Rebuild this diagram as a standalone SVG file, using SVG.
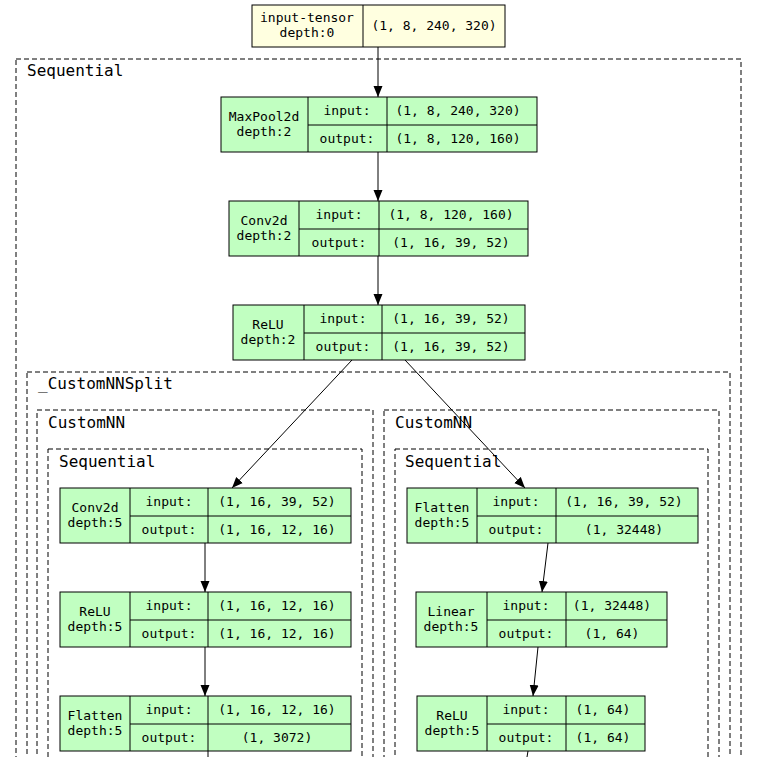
<svg xmlns="http://www.w3.org/2000/svg" width="757" height="757" viewBox="0 0 757 757">
<style>
.c{fill:none;stroke:#000;stroke-dasharray:5,3;stroke-width:1}
.cl{font-family:"DejaVu Sans Mono",monospace;font-size:16px}
.n rect{stroke:#000;stroke-width:1}
.g{fill:#c1ffc1}
.y{fill:#ffffe0}
.n line{stroke:#000}
.n text{font-family:"DejaVu Sans Mono",monospace;font-size:13px;text-anchor:middle}
.e{stroke:#000;fill:none;marker-end:url(#a)}
</style>
<defs><marker id="a" markerWidth="12" markerHeight="12" refX="11" refY="5" orient="auto" markerUnits="userSpaceOnUse"><path d="M0,0.5 L11,5 L0,9.5 z"/></marker></defs>
<rect width="757" height="757" fill="#fff"/>
<g id="clusters">
<rect class="c" x="16" y="59" width="725" height="710"/><text class="cl" x="27" y="76">Sequential</text>
<rect class="c" x="27" y="372" width="703" height="400"/><text class="cl" x="38" y="389">_CustomNNSplit</text>
<rect class="c" x="37" y="410" width="336" height="360"/><text class="cl" x="48" y="428">CustomNN</text>
<rect class="c" x="384" y="410" width="335" height="360"/><text class="cl" x="395" y="428">CustomNN</text>
<rect class="c" x="48" y="449" width="314" height="320"/><text class="cl" x="59" y="467">Sequential</text>
<rect class="c" x="395" y="449" width="313" height="320"/><text class="cl" x="405" y="467">Sequential</text>
</g>
<g id="edges">
<line class="e" x1="378" y1="47" x2="378" y2="97"/>
<line class="e" x1="378" y1="152" x2="378" y2="201"/>
<line class="e" x1="378" y1="256" x2="378" y2="305"/>
<line class="e" x1="352" y1="360" x2="232" y2="488"/>
<line class="e" x1="405" y1="360" x2="525" y2="488"/>
<line class="e" x1="205" y1="543" x2="205" y2="592"/>
<line class="e" x1="205" y1="647" x2="205" y2="696"/>
<line x1="208" y1="751" x2="208" y2="757" stroke="#000"/>
<line class="e" x1="548" y1="543" x2="542" y2="592"/>
<line class="e" x1="538" y1="647" x2="533" y2="696"/>
<line x1="528" y1="751" x2="527" y2="757" stroke="#000"/>
</g>
<g id="input" class="n">
<rect class="y" x="252" y="5" width="253" height="42"/><line x1="363" y1="5" x2="363" y2="47"/>
<text x="307" y="22">input-tensor</text><text x="307" y="37">depth:0</text>
<text x="434" y="30">(1, 8, 240, 320)</text>
</g>
<g id="maxpool" class="n">
<rect class="g" x="221" y="97" width="316" height="55"/><line x1="308" y1="97" x2="308" y2="152"/><line x1="387" y1="97" x2="387" y2="152"/><line x1="308" y1="125" x2="537" y2="125"/>
<text x="264" y="121">MaxPool2d</text><text x="264" y="136">depth:2</text>
<text x="347" y="115">input:</text><text x="347" y="143">output:</text>
<text x="458" y="115">(1, 8, 240, 320)</text><text x="458" y="143">(1, 8, 120, 160)</text>
</g>
<g id="conv1" class="n">
<rect class="g" x="229" y="201" width="299" height="55"/><line x1="299" y1="201" x2="299" y2="256"/><line x1="379" y1="201" x2="379" y2="256"/><line x1="299" y1="229" x2="528" y2="229"/>
<text x="264" y="225">Conv2d</text><text x="264" y="240">depth:2</text>
<text x="339" y="219">input:</text><text x="339" y="247">output:</text>
<text x="451" y="219">(1, 8, 120, 160)</text><text x="451" y="247">(1, 16, 39, 52)</text>
</g>
<g id="relu1" class="n">
<rect class="g" x="233" y="305" width="292" height="55"/><line x1="304" y1="305" x2="304" y2="360"/><line x1="382" y1="305" x2="382" y2="360"/><line x1="304" y1="333" x2="525" y2="333"/>
<text x="268" y="329">ReLU</text><text x="268" y="344">depth:2</text>
<text x="343" y="323">input:</text><text x="343" y="351">output:</text>
<text x="451" y="323">(1, 16, 39, 52)</text><text x="451" y="351">(1, 16, 39, 52)</text>
</g>
<g id="lconv" class="n">
<rect class="g" x="60" y="488" width="291" height="55"/><line x1="130" y1="488" x2="130" y2="543"/><line x1="208" y1="488" x2="208" y2="543"/><line x1="130" y1="516" x2="351" y2="516"/>
<text x="95" y="512">Conv2d</text><text x="95" y="527">depth:5</text>
<text x="169" y="506">input:</text><text x="169" y="534">output:</text>
<text x="277" y="506">(1, 16, 39, 52)</text><text x="277" y="534">(1, 16, 12, 16)</text>
</g>
<g id="lrelu" class="n">
<rect class="g" x="60" y="592" width="291" height="55"/><line x1="130" y1="592" x2="130" y2="647"/><line x1="208" y1="592" x2="208" y2="647"/><line x1="130" y1="620" x2="351" y2="620"/>
<text x="95" y="616">ReLU</text><text x="95" y="631">depth:5</text>
<text x="169" y="610">input:</text><text x="169" y="638">output:</text>
<text x="277" y="610">(1, 16, 12, 16)</text><text x="277" y="638">(1, 16, 12, 16)</text>
</g>
<g id="lflatten" class="n">
<rect class="g" x="60" y="696" width="291" height="55"/><line x1="130" y1="696" x2="130" y2="751"/><line x1="208" y1="696" x2="208" y2="751"/><line x1="130" y1="724" x2="351" y2="724"/>
<text x="95" y="720">Flatten</text><text x="95" y="735">depth:5</text>
<text x="169" y="714">input:</text><text x="169" y="742">output:</text>
<text x="277" y="714">(1, 16, 12, 16)</text><text x="277" y="742">(1, 3072)</text>
</g>
<g id="rflatten" class="n">
<rect class="g" x="407" y="488" width="291" height="55"/><line x1="477" y1="488" x2="477" y2="543"/><line x1="556" y1="488" x2="556" y2="543"/><line x1="477" y1="516" x2="698" y2="516"/>
<text x="442" y="512">Flatten</text><text x="442" y="527">depth:5</text>
<text x="516" y="506">input:</text><text x="516" y="534">output:</text>
<text x="624" y="506">(1, 16, 39, 52)</text><text x="624" y="534">(1, 32448)</text>
</g>
<g id="rlinear" class="n">
<rect class="g" x="416" y="592" width="251" height="55"/><line x1="487" y1="592" x2="487" y2="647"/><line x1="566" y1="592" x2="566" y2="647"/><line x1="487" y1="620" x2="667" y2="620"/>
<text x="451" y="616">Linear</text><text x="451" y="631">depth:5</text>
<text x="526" y="610">input:</text><text x="526" y="638">output:</text>
<text x="612" y="610">(1, 32448)</text><text x="612" y="638">(1, 64)</text>
</g>
<g id="rrelu" class="n">
<rect class="g" x="417" y="696" width="228" height="55"/><line x1="487" y1="696" x2="487" y2="751"/><line x1="566" y1="696" x2="566" y2="751"/><line x1="487" y1="724" x2="645" y2="724"/>
<text x="452" y="720">ReLU</text><text x="452" y="735">depth:5</text>
<text x="526" y="714">input:</text><text x="526" y="742">output:</text>
<text x="603" y="714">(1, 64)</text><text x="603" y="742">(1, 64)</text>
</g>
</svg>
